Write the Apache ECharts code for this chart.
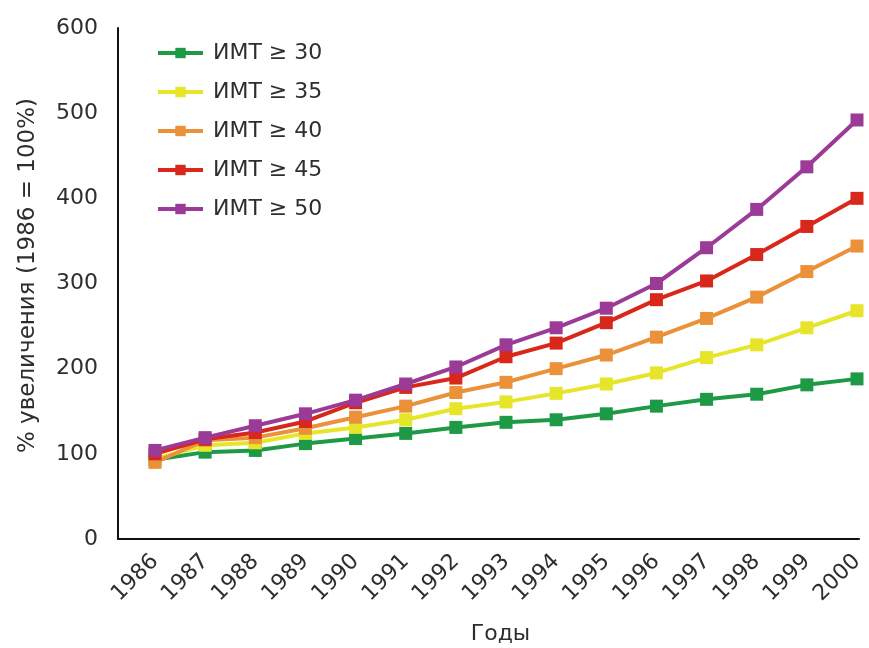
<!DOCTYPE html>
<html>
<head>
<meta charset="utf-8">
<script src="https://cdn.jsdelivr.net/npm/echarts@6/dist/echarts.min.js"></script>
<style>
  html, body { margin: 0; padding: 0; background: #fff; }
  #chart { width: 869px; height: 648px; }
</style>
</head>
<body>
<div id="chart"></div>
<script>
// Годы наблюдения
const years = [1986, 1987, 1988, 1989, 1990, 1991, 1992, 1993, 1994, 1995, 1996, 1997, 1998, 1999, 2000];

// Рост распространённости по порогам ИМТ, % от уровня 1986 г.
const bmi30 = [93, 102, 104, 112, 118, 124, 131, 137, 140, 147, 156, 164, 170, 181, 188];
const bmi35 = [94, 110, 113, 124, 131, 140, 153, 161, 171, 182, 195, 213, 228, 248, 268];
const bmi40 = [90, 116, 119, 130, 143, 156, 172, 184, 200, 216, 237, 259, 284, 314, 344];
const bmi45 = [100, 117, 125, 138, 160, 178, 189, 214, 230, 254, 281, 303, 334, 367, 400];
const bmi50 = [104, 119, 133, 147, 163, 182, 202, 228, 248, 271, 300, 342, 387, 437, 492];

const seriesNames = ['ИМТ ≥ 30', 'ИМТ ≥ 35', 'ИМТ ≥ 40', 'ИМТ ≥ 45', 'ИМТ ≥ 50'];
const seriesValues = [bmi30, bmi35, bmi40, bmi45, bmi50];
const seriesColors = ['#1e9a46', '#e6e52a', '#ea9139', '#d8281c', '#9c3a97'];

const yTicks = [0, 100, 200, 300, 400, 500, 600];

const FONT = 'DejaVu Sans';
const FS = 22;
const TEXT = '#2e2e2e';

const chart = echarts.init(document.getElementById('chart'), null, { renderer: 'canvas' });

const series = seriesNames.map((name, i) => ({
  name,
  type: 'line',
  data: years.map((y, k) => [y, seriesValues[i][k]]),
  symbol: 'rect',
  symbolSize: 13,
  showSymbol: true,
  lineStyle: { width: 4, color: seriesColors[i] },
  itemStyle: { color: seriesColors[i] },
  emphasis: { disabled: true },
  animation: false,
  z: 2 + i
}));

chart.setOption({
  backgroundColor: '#fff',
  animation: false,
  grid: { left: 118, right: 10, top: 28, bottom: 109, containLabel: false, outerBoundsMode: 'none' },
  legend: {
    orient: 'vertical',
    left: 151,
    top: 37,
    itemWidth: 45,
    itemHeight: 13,
    itemGap: 17,
    data: seriesNames,
    lineStyle: { width: 4 },
    textStyle: { fontFamily: FONT, fontSize: FS, color: TEXT, padding: [0, 0, 0, 5] }
  },
  xAxis: {
    type: 'value',
    min: 1985.262,
    max: 2000.04,
    name: 'Годы',
    nameLocation: 'middle',
    nameGap: 84,
    nameTextStyle: { fontFamily: FONT, fontSize: FS, color: TEXT, padding: [0, 0, 0, 24] },
    axisLine: { show: true, lineStyle: { color: '#111', width: 2 } },
    axisTick: { show: false },
    splitLine: { show: false },
    axisLabel: {
      customValues: years,
      rotate: 45,
      margin: 19,
      fontFamily: FONT,
      fontSize: FS,
      color: TEXT,
      formatter: v => String(v)
    }
  },
  yAxis: {
    type: 'value',
    min: 0,
    max: 600,
    interval: 100,
    name: '% увеличения (1986 = 100%)',
    nameLocation: 'middle',
    nameGap: 78,
    nameTextStyle: { fontFamily: FONT, fontSize: 23, color: TEXT, padding: [0, 0, 0, 16] },
    axisLine: { show: true, lineStyle: { color: '#111', width: 2 } },
    axisTick: { show: false },
    splitLine: { show: false },
    axisLabel: {
      customValues: yTicks,
      margin: 20,
      fontFamily: FONT,
      fontSize: FS,
      color: TEXT
    }
  },
  series
});
</script>
</body>
</html>
